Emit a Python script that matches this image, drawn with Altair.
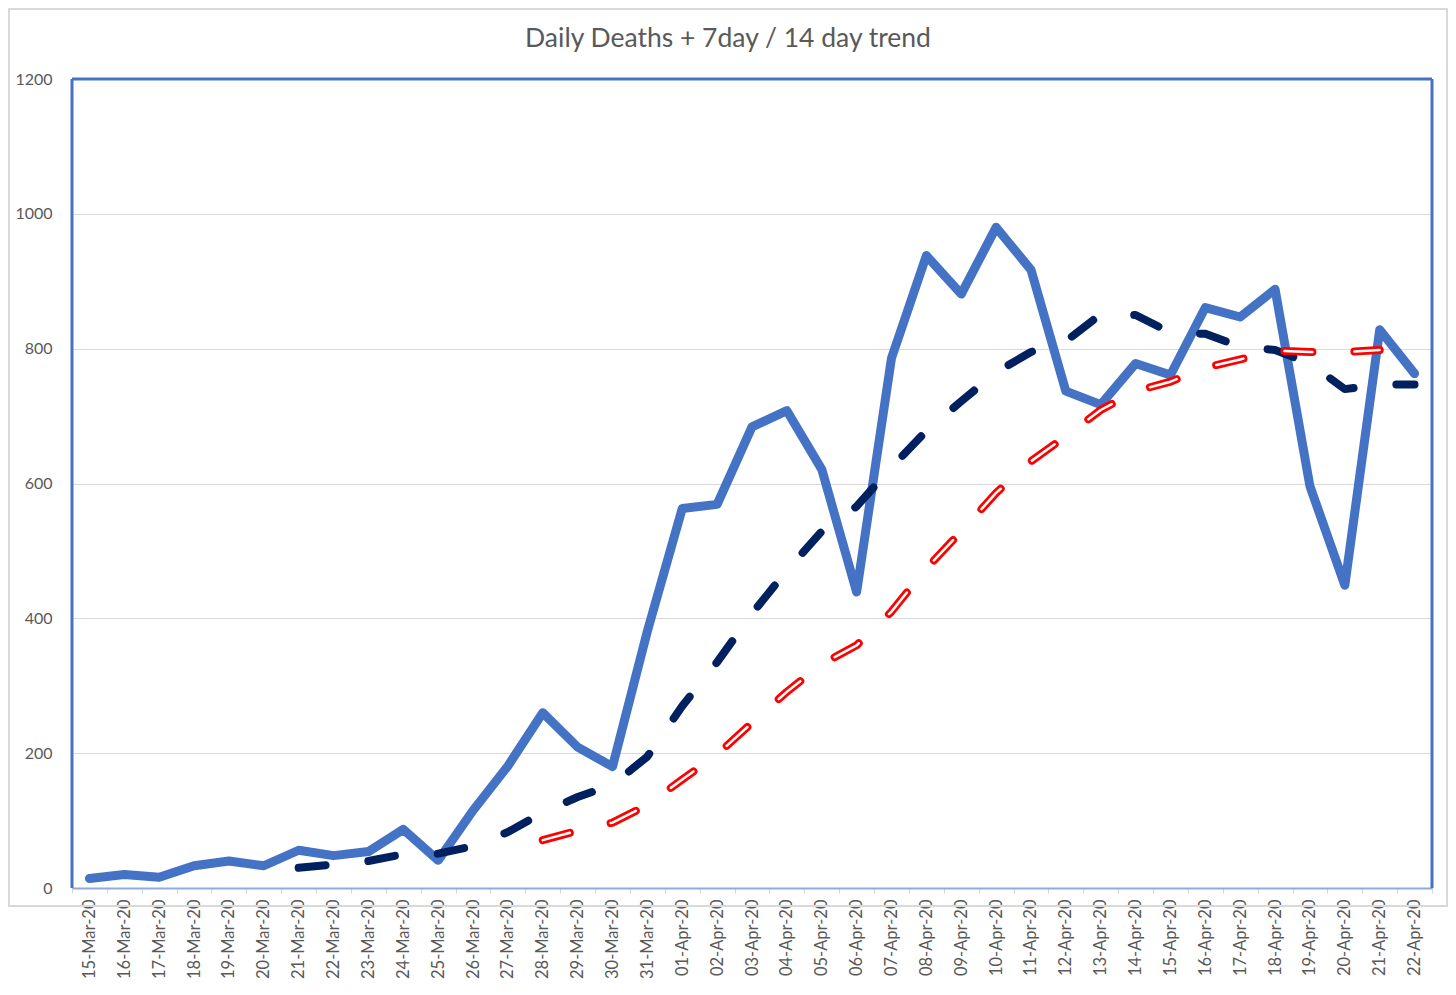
import altair as alt
import pandas as pd

dates = [
    "15-Mar-20", "16-Mar-20", "17-Mar-20", "18-Mar-20", "19-Mar-20", "20-Mar-20",
    "21-Mar-20", "22-Mar-20", "23-Mar-20", "24-Mar-20", "25-Mar-20", "26-Mar-20",
    "27-Mar-20", "28-Mar-20", "29-Mar-20", "30-Mar-20", "31-Mar-20",
    "01-Apr-20", "02-Apr-20", "03-Apr-20", "04-Apr-20", "05-Apr-20", "06-Apr-20",
    "07-Apr-20", "08-Apr-20", "09-Apr-20", "10-Apr-20", "11-Apr-20", "12-Apr-20",
    "13-Apr-20", "14-Apr-20", "15-Apr-20", "16-Apr-20", "17-Apr-20", "18-Apr-20",
    "19-Apr-20", "20-Apr-20", "21-Apr-20", "22-Apr-20",
]

daily_deaths = [
    14, 20, 16, 33, 40, 33, 56, 48, 54, 87, 41, 115, 181, 260, 209, 180, 381,
    563, 569, 684, 708, 621, 439, 786, 938, 881, 980, 917, 737, 717, 778, 761,
    861, 847, 888, 596, 449, 828, 763,
]

trend7_start = "21-Mar-20"
trend7 = [
    30, 35, 40, 50, 51, 62, 83, 112, 135, 153, 195,
    270, 335, 407, 471, 529, 566, 624, 678, 722, 765, 795, 811, 851, 850, 824,
    822, 803, 798, 778, 740, 747, 747,
]

trend14_start = "28-Mar-20"
trend14 = [
    71, 85, 97, 123,
    161, 198, 245, 291, 332, 360, 410, 474, 529, 586, 633, 670, 709, 737, 751,
    772, 784, 797, 795, 795, 798,
]

y_ticks = [0, 200, 400, 600, 800, 1000, 1200]
title_text = "Daily Deaths + 7day / 14 day trend"

rows = []
for d, v in zip(dates, daily_deaths):
    rows.append({"date": d, "series": "daily", "value": v})
i7 = dates.index(trend7_start)
for d, v in zip(dates[i7:], trend7):
    rows.append({"date": d, "series": "t7", "value": v})
i14 = dates.index(trend14_start)
for d, v in zip(dates[i14:], trend14):
    rows.append({"date": d, "series": "t14", "value": v})
df = pd.DataFrame(rows)

W, H = 1360, 809
FONT = "Lato"
GREY = "#595959"

x_enc = alt.X(
    "date:N",
    sort=dates,
    bandPosition=0.5,
    scale=alt.Scale(type="band", domain=dates, paddingInner=0, paddingOuter=0),
    axis=alt.Axis(
        title=None,
        labelAngle=270,
        tickBand="extent",
        labelFont=FONT,
        labelFontSize=16.5,
        labelColor=GREY,
        labelPadding=6,
        domainColor="#8FAADC",
        domainWidth=2,
        tickColor="#D9D9D9",
        tickSize=5,
        tickWidth=1,
        grid=False,
    ),
)
y_enc = alt.Y(
    "value:Q",
    scale=alt.Scale(domain=[0, 1200], nice=False),
    axis=alt.Axis(
        title=None,
        values=y_ticks,
        format="d",
        ticks=False,
        domain=False,
        grid=True,
        gridColor="#D9D9D9",
        gridWidth=1,
        labelFont=FONT,
        labelFontSize=16,
        labelColor=GREY,
        labelPadding=20,
    ),
)

base = alt.Chart(df).encode(x=x_enc, y=y_enc)

daily = base.transform_filter(alt.datum.series == "daily").mark_line(
    color="#4472C4", strokeWidth=9, strokeCap="round", strokeJoin="round"
)
t7 = base.transform_filter(alt.datum.series == "t7").mark_line(
    color="#002060", strokeWidth=8, strokeCap="round", strokeJoin="round",
    strokeDash=[27, 43]
)
t14_outer = base.transform_filter(alt.datum.series == "t14").mark_line(
    color="#FF0000", strokeWidth=8, strokeCap="round", strokeJoin="round",
    strokeDash=[28, 42]
)
t14_inner = base.transform_filter(alt.datum.series == "t14").mark_line(
    color="#FFFFFF", strokeWidth=2.5, strokeCap="round", strokeJoin="round",
    strokeDash=[28, 42]
)

one = pd.DataFrame({"k": [0]})
outer = alt.Chart(one).mark_rect(
    fillOpacity=0, stroke="#D9D9D9", strokeWidth=2
).encode(x=alt.value(-63), x2=alt.value(W + 15), y=alt.value(-70), y2=alt.value(H + 18))

title = alt.Chart(one).mark_text(
    text=title_text, font=FONT, fontSize=26.5, color=GREY,
    align="center", baseline="alphabetic"
).encode(x=alt.value(W / 2 - 24), y=alt.value(-32))

border_top = alt.Chart(one).mark_rule(color="#4472C4", strokeWidth=3).encode(
    x=alt.value(0), x2=alt.value(W), y=alt.value(0)
)
border_left = alt.Chart(one).mark_rule(color="#4472C4", strokeWidth=3).encode(
    x=alt.value(0), y=alt.value(0), y2=alt.value(H)
)
border_right = alt.Chart(one).mark_rule(color="#4472C4", strokeWidth=3).encode(
    x=alt.value(W), y=alt.value(0), y2=alt.value(H)
)

chart = alt.layer(
    outer, title, daily, t7, t14_outer, t14_inner, border_top, border_left, border_right
).properties(
    width=W,
    height=H,
    autosize=alt.AutoSizeParams(type="none"),
    padding={"left": 64, "top": 71, "right": 16, "bottom": 99},
    background="white",
).configure_view(strokeWidth=0)

chart.save("out.html", embed_options={"renderer": "svg", "actions": False})
